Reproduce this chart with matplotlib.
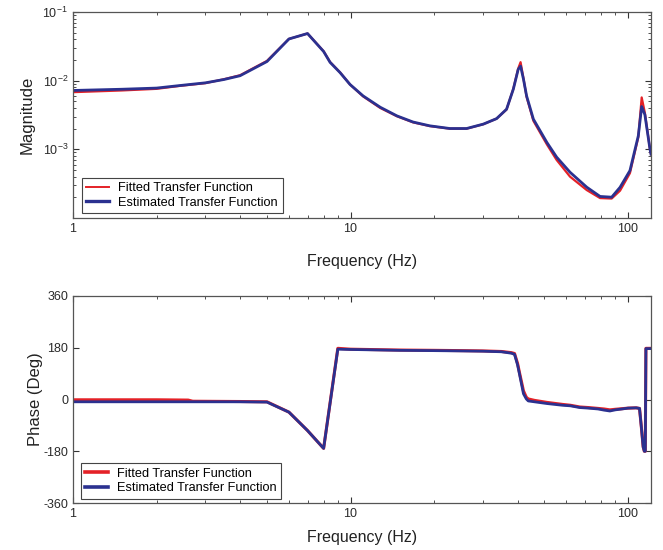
import matplotlib
matplotlib.use("Agg")
import matplotlib.pyplot as plt
from matplotlib.ticker import LogLocator, FixedLocator, NullFormatter

# ---------------- data ----------------
mag_freq_hz = [1, 1.5, 2, 2.43, 3, 3.5, 4, 5, 6, 7, 8, 8.44, 9.17, 9.96, 11.1,
               12.8, 14.7, 16.8, 19.3, 22.8, 26.2, 30.1, 33.6, 36.5, 38.6,
               40.2, 41, 42, 43.1, 45.6, 51, 55.3, 61.8, 71, 79.3, 87.3, 93.6,
               101.6, 108.9, 112, 115, 120, 121]
mag_estimated = [0.0072, 0.0075, 0.0078, 0.0085, 0.0093, 0.0104, 0.0118,
                 0.0190, 0.0405, 0.0486, 0.0266, 0.0185, 0.0131, 0.0088,
                 0.0060, 0.0041, 0.00307, 0.0025, 0.0022, 0.00201, 0.00201,
                 0.00233, 0.0028, 0.00384, 0.0075, 0.0146, 0.0163, 0.0105,
                 0.0060, 0.00275, 0.00126, 0.00077, 0.000464, 0.000281,
                 0.000206, 0.000201, 0.00028, 0.00049, 0.00157, 0.0042,
                 0.0032, 0.0010, 0.00085]
mag_fitted = [0.0068, 0.0072, 0.0076, 0.0084, 0.0092, 0.0105, 0.0120, 0.0194,
              0.0405, 0.0486, 0.0268, 0.0187, 0.0132, 0.0088, 0.0059, 0.0040,
              0.00303, 0.00247, 0.00218, 0.00200, 0.00200, 0.00232, 0.0028,
              0.0038, 0.0076, 0.0150, 0.0186, 0.0108, 0.0058, 0.0026,
              0.00118, 0.00070, 0.00040, 0.000255, 0.000195, 0.000192,
              0.00025, 0.00045, 0.00150, 0.0057, 0.0034, 0.0010, 0.00085]

phase_freq_hz = [1, 2, 2.6, 2.7, 4, 5, 6, 7, 8, 9, 10, 15, 20, 25, 30, 35, 38,
                 39, 40, 40.6, 42, 43, 43.7, 46, 51, 58, 62, 67, 72, 78, 82, 86,
                 90, 95, 100, 107, 110, 111.7, 113.4, 114.5, 115.4, 116, 121]
phase_estimated = [-8, -8, -8, -8, -8, -9, -44, -108, -170, 175, 174, 171, 170,
                   169, 168, 166, 161, 157, 120, 90, 20, 2, -5, -8, -14, -20,
                   -22, -28, -30, -33, -37, -40, -36, -33, -30, -29, -31, -96,
                   -165, -180, -180, 177, 177]
phase_fitted = [-1, -1, -2, -6, -7, -8, -44, -108, -170, 178, 175, 172, 171,
                170, 169, 167, 163, 160, 125, 95, 30, 8, 2, -3, -10, -17,
                -20, -26, -28, -31, -33, -36, -34, -32, -30, -29, -31, -96,
                -165, -180, -180, 178, 178]

mag_yticks = [1e-3, 1e-2, 1e-1]
phase_yticks = [-360, -180, 0, 180, 360]
x_ticks = [1, 10, 100]
x_ticklabels = ["1", "10", "100"]
legend_labels = ["Fitted Transfer Function", "Estimated Transfer Function"]

# ---------------- style ----------------
plt.rcParams["font.family"] = ["Liberation Sans", "DejaVu Sans"]
plt.rcParams["mathtext.fontset"] = "custom"
plt.rcParams["mathtext.rm"] = "Liberation Sans"
plt.rcParams["mathtext.it"] = "Liberation Sans:italic"
plt.rcParams["axes.unicode_minus"] = False

RED = "#e42127"
BLUE = "#2b3190"
SPINE = "#555555"

fig = plt.figure(figsize=(6.63, 5.5), dpi=100)
ax1 = fig.add_axes([73 / 663, 1 - 218 / 550, 578 / 663, 206 / 550])
ax2 = fig.add_axes([73 / 663, 1 - 503 / 550, 578 / 663, 207 / 550])


def style_axes(ax):
    for s in ax.spines.values():
        s.set_color(SPINE)
        s.set_linewidth(0.9)
    ax.tick_params(which="both", direction="in", top=True, right=True,
                   colors="#333333", labelcolor="#2a2a2a", labelsize=9)
    ax.tick_params(which="major", length=4.5, width=0.8)
    ax.tick_params(which="minor", length=2.5, width=0.6)
    ax.set_xscale("log")
    ax.set_xlim(1, 121)
    ax.xaxis.set_major_locator(FixedLocator(x_ticks))
    ax.set_xticklabels(x_ticklabels)
    ax.xaxis.set_minor_locator(LogLocator(base=10, subs=range(2, 10)))
    ax.xaxis.set_minor_formatter(NullFormatter())


# ---- magnitude ----
style_axes(ax1)
ax1.plot(mag_freq_hz, mag_fitted, color=RED, lw=1.6, label=legend_labels[0],
         solid_joinstyle="round")
ax1.plot(mag_freq_hz, mag_estimated, color=BLUE, lw=2.0, label=legend_labels[1],
         solid_joinstyle="round")
ax1.set_yscale("log")
ax1.set_ylim(1e-4, 1e-1)
ax1.set_yticks(mag_yticks)
ax1.yaxis.set_minor_locator(LogLocator(base=10, subs=range(2, 10)))
ax1.yaxis.set_minor_formatter(NullFormatter())
ax1.set_xlabel("Frequency (Hz)", fontsize=11.5, labelpad=14, color="#222222")
ax1.set_ylabel("Magnitude", fontsize=12, labelpad=6, color="#222222")
leg1 = ax1.legend(loc="lower left", bbox_to_anchor=(0.0156, 0.024),
                  borderaxespad=0, fontsize=9.2, handlelength=1.8,
                  handletextpad=0.7, labelspacing=0.2, borderpad=0.35,
                  fancybox=False, framealpha=1, edgecolor="#444444")
leg1.get_frame().set_linewidth(0.8)
leg1.get_lines()[0].set_linewidth(1.4)
leg1.get_lines()[1].set_linewidth(2.4)

# ---- phase ----
style_axes(ax2)
ax2.plot(phase_freq_hz, phase_fitted, color=RED, lw=2.2, label=legend_labels[0],
         solid_joinstyle="round")
ax2.plot(phase_freq_hz, phase_estimated, color=BLUE, lw=2.0, label=legend_labels[1],
         solid_joinstyle="round")
ax2.set_ylim(-360, 360)
ax2.set_yticks(phase_yticks)
ax2.set_xlabel("Frequency (Hz)", fontsize=11.5, labelpad=7, color="#222222")
ax2.set_ylabel("Phase (Deg)", fontsize=12, labelpad=0, color="#222222")
leg2 = ax2.legend(loc="lower left", bbox_to_anchor=(0.013, 0.021),
                  borderaxespad=0, fontsize=9.2, handlelength=1.8,
                  handletextpad=0.7, labelspacing=0.2, borderpad=0.35,
                  fancybox=False, framealpha=1, edgecolor="#444444")
leg2.get_frame().set_linewidth(0.8)
for ln in leg2.get_lines():
    ln.set_linewidth(2.6)

fig.savefig("out.png", dpi=100)
